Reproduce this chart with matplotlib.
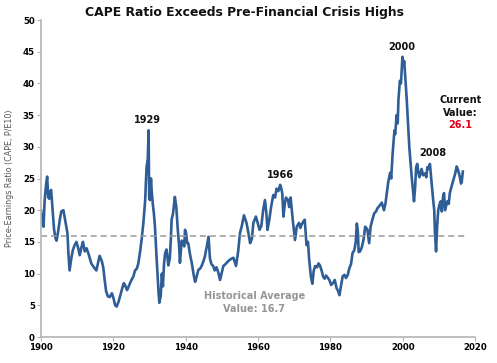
import matplotlib
matplotlib.use("Agg")
import matplotlib.pyplot as plt

# CAPE ratio (year, value)
years = [
    1900.0, 1900.4, 1900.7, 1901.0, 1901.4, 1901.7, 1902.0, 1902.3, 1902.6, 1902.8,
    1903.2, 1903.6, 1904.0, 1904.3, 1904.7, 1905.2, 1905.6, 1906.2, 1906.5, 1906.8,
    1907.3, 1907.6, 1907.9, 1908.4, 1908.8, 1909.3, 1909.8, 1910.3, 1910.7, 1911.2,
    1911.6, 1912.1, 1912.6, 1913.2, 1913.9, 1914.6, 1915.3, 1915.8, 1916.2, 1916.8,
    1917.2, 1917.6, 1918.0, 1918.5, 1919.0, 1919.6, 1920.0, 1920.5, 1920.9, 1921.4,
    1921.9, 1922.5, 1922.9, 1923.2, 1923.8, 1924.4, 1925.0, 1925.5, 1926.0, 1926.5,
    1926.9, 1927.4, 1927.8, 1928.3, 1928.8, 1929.0, 1929.2, 1929.5, 1929.75, 1929.9,
    1930.1, 1930.4, 1930.6, 1930.9, 1931.2, 1931.5, 1931.9, 1932.3, 1932.5, 1932.7,
    1933.1, 1933.4, 1933.7, 1934.0, 1934.3, 1934.7, 1935.2, 1935.6, 1935.9, 1936.1,
    1936.5, 1937.0, 1937.4, 1937.8, 1938.2, 1938.4, 1938.9, 1939.3, 1939.6, 1939.8,
    1940.1, 1940.4, 1940.7, 1941.2, 1941.7, 1942.2, 1942.6, 1943.0, 1943.5, 1944.0,
    1944.4, 1944.8, 1945.3, 1945.8, 1946.3, 1946.7, 1947.1, 1947.6, 1948.0, 1948.5,
    1949.0, 1949.5, 1950.0, 1950.4, 1951.0, 1951.8, 1952.5, 1953.2, 1953.9, 1954.5,
    1955.0, 1955.5, 1956.1, 1956.5, 1956.8, 1957.3, 1957.8, 1958.3, 1958.7, 1959.4,
    1959.9, 1960.4, 1960.9, 1961.4, 1961.9, 1962.3, 1962.6, 1963.1, 1963.6, 1964.2,
    1964.7, 1965.1, 1965.6, 1966.1, 1966.4, 1966.7, 1967.0, 1967.4, 1967.7, 1968.3,
    1968.6, 1969.0, 1969.6, 1970.2, 1970.7, 1971.3, 1971.7, 1972.0, 1972.5, 1972.9,
    1973.4, 1973.8, 1974.1, 1974.6, 1975.0, 1975.4, 1975.8, 1976.3, 1976.7, 1977.1,
    1977.6, 1978.0, 1978.4, 1978.8, 1979.2, 1979.7, 1980.2, 1980.8, 1981.2, 1981.7,
    1982.1, 1982.5, 1982.9, 1983.4, 1983.9, 1984.3, 1984.8, 1985.2, 1985.7, 1986.1,
    1986.6, 1987.0, 1987.3, 1987.6, 1987.8, 1988.2, 1988.7, 1989.2, 1989.6, 1990.2,
    1990.7, 1991.1, 1991.6, 1992.1, 1992.6, 1993.0, 1993.7, 1994.2, 1994.8, 1995.2,
    1995.6, 1996.0, 1996.5, 1996.8, 1997.2, 1997.7, 1997.9, 1998.3, 1998.6, 1998.8,
    1999.2, 1999.5, 1999.9, 2000.2, 2000.4, 2000.8, 2001.1, 2001.5, 2001.8, 2002.1,
    2002.5, 2002.8, 2003.1, 2003.4, 2003.7, 2004.0, 2004.3, 2004.6, 2005.2, 2005.6,
    2006.1, 2006.5, 2006.8, 2007.2, 2007.5, 2007.9, 2008.4, 2008.7, 2008.9, 2009.2,
    2009.5, 2009.8, 2010.2, 2010.5, 2010.8, 2011.1, 2011.4, 2011.7, 2012.3, 2012.7,
    2013.0, 2013.5, 2014.0, 2014.5, 2014.9, 2015.3, 2015.8, 2016.1, 2016.3, 2016.6,
]
cape = [
    20.0, 18.0, 17.4, 21.5, 24.0, 25.3, 22.0, 21.8, 23.0, 23.2,
    20.0, 17.0, 15.6, 15.2, 16.5, 18.5, 19.8, 20.0, 19.0, 18.0,
    16.4, 13.0, 10.5, 12.5, 13.7, 14.5, 15.0, 14.0, 12.9, 14.2,
    15.0, 13.5, 14.0, 13.0, 11.6, 11.0, 10.5, 11.8, 12.8, 12.0,
    11.0, 9.0, 7.2, 6.4, 6.3, 6.9, 6.2, 5.0, 4.8, 5.5,
    6.5, 7.8, 8.5, 8.2, 7.4, 8.2, 9.0, 9.5, 10.5, 10.8,
    11.6, 13.5, 15.3, 18.0, 21.6, 24.5, 26.9, 28.0, 32.6, 22.0,
    21.6, 25.0, 23.0, 21.0, 19.5, 17.4, 13.0, 9.0, 7.0, 5.4,
    6.5, 10.0, 8.0, 11.5, 13.2, 13.8, 11.3, 12.4, 15.5, 18.5,
    19.5, 22.1, 20.5, 17.0, 14.2, 11.7, 15.2, 14.8, 14.3, 16.9,
    16.4, 14.8, 14.8, 13.0, 11.6, 9.8, 8.7, 9.5, 10.6, 10.8,
    11.2, 11.8, 12.7, 14.2, 15.8, 12.4, 11.5, 11.2, 10.5, 11.0,
    10.2, 9.0, 10.2, 11.2, 11.5, 12.0, 12.3, 12.5, 11.2, 13.5,
    16.4, 17.5, 19.2, 18.5, 18.0, 16.5, 14.8, 15.5, 18.0, 19.0,
    18.0, 16.9, 17.5, 20.0, 21.6, 19.5, 16.9, 18.5, 20.5, 22.4,
    22.0, 23.4, 23.0, 24.0, 23.5, 22.6, 19.0, 21.0, 22.0, 21.6,
    20.5, 22.0, 18.4, 15.3, 17.4, 18.0, 17.2, 17.7, 18.2, 18.5,
    14.5, 15.0, 12.4, 9.5, 8.4, 10.5, 11.2, 11.0, 11.6, 11.3,
    10.4, 9.5, 9.2, 9.7, 9.4, 9.0, 8.2, 8.6, 9.0, 7.7,
    7.3, 6.6, 8.0, 9.6, 9.8, 9.3, 9.8, 10.8, 11.5, 13.2,
    13.7, 15.0, 17.9, 16.5, 13.4, 13.5, 14.2, 15.5, 17.4, 17.0,
    14.8, 17.4, 18.5, 19.5, 19.8, 20.3, 20.8, 21.2, 20.0, 21.0,
    22.7, 24.5, 25.9, 25.0, 29.0, 32.6, 32.0, 35.0, 33.7, 37.4,
    40.4, 40.0, 44.2, 43.0, 43.5, 40.0, 37.4, 33.1, 30.0, 27.8,
    25.0, 23.2, 21.4, 23.5, 26.8, 27.3, 26.0, 25.2, 26.5, 25.5,
    25.8, 25.2, 26.8, 26.5, 27.3, 24.8, 21.6, 20.0, 16.4, 13.5,
    17.5, 20.0, 21.0, 21.4, 19.8, 22.0, 22.7, 20.0, 21.4, 21.0,
    22.7, 23.8, 24.8, 25.8, 26.9, 26.3, 25.2, 24.2, 24.5, 26.1,
]
hist_avg = 15.9
avg_span = [1900, 2017.7]
x_ticks = list(range(1900, 2021, 20))
y_ticks = list(range(0, 51, 5))

line_color = "#2f5d96"
axis_color = "#b4b4b4"

fig = plt.figure(figsize=(4.97, 3.63), dpi=100)
ax = fig.add_axes([0.0825, 0.0716, 0.8735, 0.8733])

ax.plot(years, cape, color=line_color, lw=1.9, solid_joinstyle="round")
ax.plot(avg_span, [hist_avg, hist_avg], color="#9a9a9a", lw=1.1, ls=(0, (4, 2.5)))

ax.set_xlim(1900, 2020)
ax.set_ylim(0, 50)
ax.set_xticks(x_ticks)
ax.set_yticks(y_ticks)
ax.tick_params(labelsize=6.2, length=3, color=axis_color, pad=1.5)
for lab in ax.get_xticklabels() + ax.get_yticklabels():
    lab.set_fontweight("bold")
for s in ["top", "right"]:
    ax.spines[s].set_visible(False)
for s in ["left", "bottom"]:
    ax.spines[s].set_color(axis_color)
    ax.spines[s].set_linewidth(1.2)

ax.set_ylabel("Price-Earnings Ratio (CAPE, P/E10)", fontsize=5.8, color="#555555", labelpad=6)
fig.text(0.492, 0.965, "CAPE Ratio Exceeds Pre-Financial Crisis Highs", ha="center", va="center",
         fontsize=8.9, fontweight="bold", color="#111111")

ann = dict(ha="center", va="center", fontsize=7, fontweight="bold", color="#111111")
ax.text(1929.4, 34.2, "1929", **ann)
ax.text(1966.1, 25.6, "1966", **ann)
ax.text(1999.6, 45.7, "2000", **ann)
ax.text(2008.2, 29.0, "2008", **ann)
ax.text(2016.0, 37.4, "Current", **ann)
ax.text(2016.0, 35.4, "Value:", **ann)
ax.text(2016.0, 33.4, "26.1", ha="center", va="center", fontsize=7, fontweight="bold", color="#e0001b")

gray = dict(ha="center", va="center", fontsize=7, fontweight="bold", color="#959595")
ax.text(1959.0, 6.45, "Historical Average", **gray)
ax.text(1959.0, 4.35, "Value: 16.7", **gray)

fig.savefig("out.png", dpi=100)
